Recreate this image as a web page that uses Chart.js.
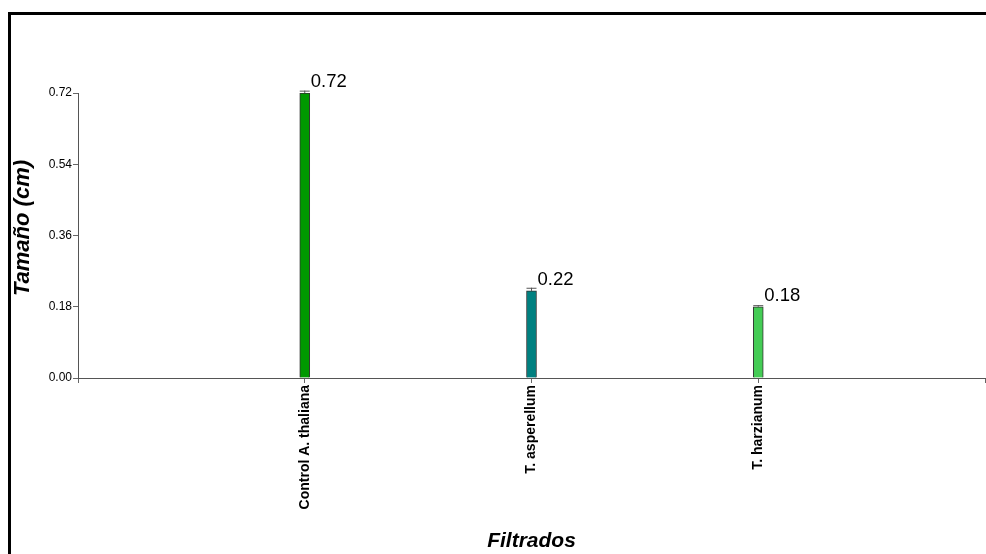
<!DOCTYPE html>
<html>
<head>
<meta charset="utf-8">
<script src="https://cdn.jsdelivr.net/npm/chart.js@4/dist/chart.umd.min.js"></script>
<style>
  html, body { margin: 0; padding: 0; background: #fff; }
  #wrap { position: relative; width: 986px; height: 554px; }
</style>
</head>
<body>
<div id="wrap"><canvas id="c" width="986" height="554"></canvas></div>
<script>
// Plant size by treatment filtrate
const categories = ['', 'Control A. thaliana', 'T. asperellum', 'T. harzianum', ''];
const sizes = [null, 0.72, 0.22, 0.18, null];
const errors = [null, 0.006, 0.008, 0.004, null];
const barColors = ['#000', '#009900', '#008080', '#44cc55', '#000'];
const yTicks = [0, 0.18, 0.36, 0.54, 0.72];
const yTitle = 'Tamaño (cm)';
const xTitle = 'Filtrados';

const decorations = {
  id: 'decorations',
  beforeDraw(chart) {
    const ctx = chart.ctx;
    ctx.save();
    ctx.fillStyle = '#fff';
    ctx.fillRect(0, 0, chart.width, chart.height);
    // frame around the figure
    ctx.fillStyle = '#000';
    ctx.fillRect(8, 12, chart.width - 8, 3);
    ctx.fillRect(8, 12, 3, chart.height - 12);
    ctx.restore();
  },
  afterDatasetsDraw(chart) {
    const ctx = chart.ctx;
    const y = chart.scales.y;
    const meta = chart.getDatasetMeta(0);
    ctx.save();
    meta.data.forEach((bar, i) => {
      const v = sizes[i];
      if (v === null) return;
      const e = errors[i];
      const top = y.getPixelForValue(v + e);
      const base = y.getPixelForValue(v);
      // error bar with cap
      ctx.strokeStyle = '#555';
      ctx.lineWidth = 1;
      ctx.beginPath();
      ctx.moveTo(bar.x, base);
      ctx.lineTo(bar.x, top);
      ctx.moveTo(bar.x - 5, top + 0.5);
      ctx.lineTo(bar.x + 5, top + 0.5);
      ctx.stroke();
      // value label
      ctx.fillStyle = '#000';
      ctx.font = '18.5px "Liberation Sans", Arial, sans-serif';
      ctx.textAlign = 'left';
      ctx.textBaseline = 'alphabetic';
      ctx.fillText(v.toFixed(2), bar.x + bar.width / 2 + 1, base - 6);
    });
    ctx.restore();
  },
  afterDraw(chart) {
    const ctx = chart.ctx;
    const area = chart.chartArea;
    ctx.save();
    ctx.fillStyle = '#000';
    ctx.textAlign = 'center';
    ctx.textBaseline = 'middle';
    ctx.font = 'italic bold 21px "Liberation Sans", Arial, sans-serif';
    ctx.fillText(xTitle, (area.left + area.right) / 2, 541);
    ctx.translate(23, 228);
    ctx.rotate(-Math.PI / 2);
    ctx.font = 'italic bold 22px "Liberation Sans", Arial, sans-serif';
    ctx.fillText(yTitle, 0, 0);
    ctx.restore();
  }
};

new Chart(document.getElementById('c'), {
  type: 'bar',
  data: {
    labels: categories,
    datasets: [{
      data: sizes,
      backgroundColor: barColors,
      borderColor: '#333',
      borderWidth: 1,
      barThickness: 10
    }]
  },
  options: {
    responsive: false,
    animation: false,
    events: [],
    layout: { padding: { left: 0, top: 93, right: 1, bottom: 0 } },
    plugins: { legend: { display: false }, tooltip: { enabled: false } },
    scales: {
      x: {
        offset: false,
        grid: { offset: false, drawOnChartArea: false, drawTicks: true, tickLength: 5, color: '#666' },
        border: { display: true, color: '#555', width: 1 },
        ticks: {
          autoSkip: false,
          minRotation: 90,
          maxRotation: 90,
          padding: 2,
          color: '#000',
          font: { family: '"Liberation Sans", Arial, sans-serif', size: 14, weight: 'bold' }
        },
        afterFit(scale) {
          scale.height = 176;
          scale.paddingLeft = 0;
          scale.paddingRight = 0;
        }
      },
      y: {
        min: 0,
        max: 0.72,
        grid: { drawOnChartArea: false, drawTicks: true, tickLength: 5, color: '#666' },
        border: { display: true, color: '#555', width: 1 },
        afterBuildTicks(scale) { scale.ticks = yTicks.map(v => ({ value: v })); },
        ticks: {
          padding: 1,
          color: '#000',
          font: { family: '"Liberation Sans", Arial, sans-serif', size: 12 },
          callback: v => Number(v).toFixed(2)
        },
        afterFit(scale) {
          scale.width = 78;
          scale.paddingTop = 0;
          scale.paddingBottom = 0;
        }
      }
    }
  },
  plugins: [decorations]
});
</script>
</body>
</html>
